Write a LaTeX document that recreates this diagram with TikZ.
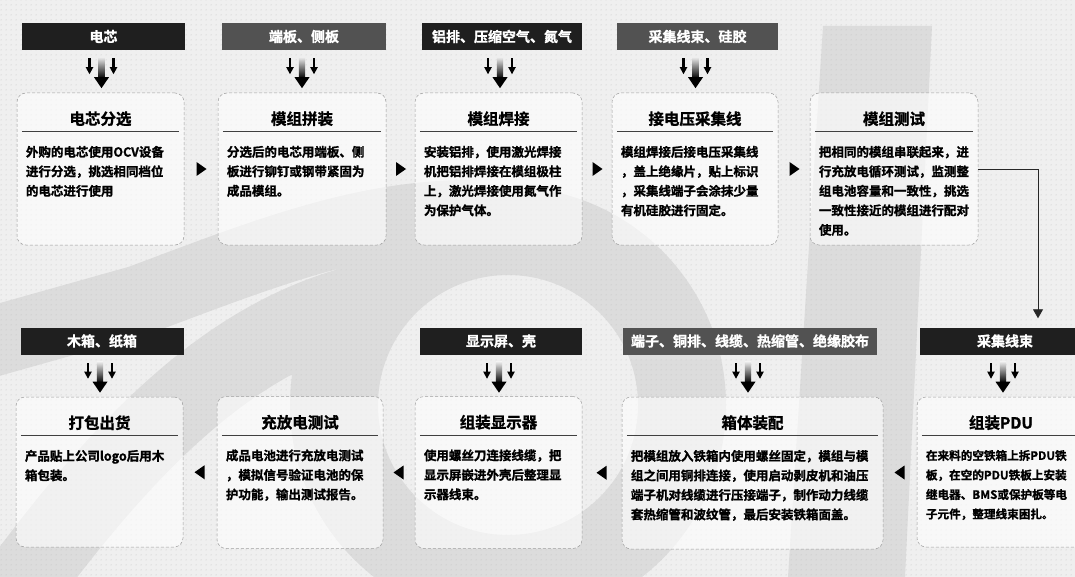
\documentclass[tikz,border=0pt]{standalone}
\usepackage{fontspec}
\setmainfont{Noto Sans CJK SC}[BoldFont={* Bold}, BoldFeatures={FakeBold=1.2}]
\usetikzlibrary{calc,arrows.meta,patterns.meta}
\definecolor{bgc}{HTML}{EFEFEF}
\definecolor{wm}{HTML}{DCDCDC}
\tikzdeclarepattern{name=bgdots, type=uncolored,
  bounding box={(0pt,0pt) and (5pt,5pt)}, tile size={(5pt,5pt)},
  code={\fill (2.5pt,2.5pt) circle (0.55pt);}}
% [body options], name, cx, cy, w, h, title, body
\newcommand\procbox[8][]{%
  \node[pbox, minimum width=#5pt, minimum height=#6pt] (#2) at (#3,#4) {};
  \node[ptitle] (#2-t) at ($(#2.north)+(0,26)$) {#7};
  \draw[sepline] ($(#2.north west)+(5,39)$) coordinate (#2-s1) -- ($(#2.north east)+(-5,39)$) coordinate (#2-s2);
  \node[pbody,#1] (#2-b) at ($(#2.north west)+(9,53)$) {#8};
}
% name, cx, cy, w, style, text
\newcommand\hdr[6]{%
  \node[hbox, #5, minimum width=#4pt] (#1) at (#2,#3) {#6};
}
% triple input arrow under a header
\newcommand\feed[1]{%
  \coordinate (#1-a) at ($(#1.south)+(-2,7)$);
  \shade[top color=gray!15, bottom color=black] ($(#1-a)+(-3.2,0)$) rectangle ($(#1-a)+(3.2,21)$);
  \fill ($(#1-a)+(-7.5,20)$) -- ($(#1-a)+(7.5,20)$) -- ($(#1-a)+(0,31)$) -- cycle;
  \foreach \s in {-12,12}{%
    \fill ($(#1-a)+(\s-1.3,1)$) rectangle ($(#1-a)+(\s+1.3,11)$);
    \fill ($(#1-a)+(\s-3.8,10)$) -- ($(#1-a)+(\s+3.8,10)$) -- ($(#1-a)+(\s,17)$) -- cycle;
  }%
}
\newcommand\rtri[2]{%
  \coordinate (#1) at (#2);
  \fill[tri] ($(#1)+(-4.5,-7)$) -- ($(#1)+(5.5,0)$) -- ($(#1)+(-4.5,7)$) -- cycle;
}
\newcommand\ltri[2]{%
  \coordinate (#1) at (#2);
  \fill[tri] ($(#1)+(4.5,-7)$) -- ($(#1)+(-5.5,0)$) -- ($(#1)+(4.5,7)$) -- cycle;
}
\begin{document}
\begin{tikzpicture}[x=1pt,y=-1pt,
  pbox/.style={draw=gray!75, densely dashed, line width=0.5pt, rounded corners=9pt, fill=white, fill opacity=0.6, inner sep=0pt},
  ptitle/.style={font=\bfseries\fontsize{15.5}{18}\selectfont, inner sep=0pt},
  sepline/.style={draw=black!75, line width=0.9pt},
  pbody/.style={font=\bfseries\fontsize{12.5}{19.5}\selectfont, align=left, inner sep=0pt, anchor=north west},
  pbodysm/.style={font=\bfseries\fontsize{11.6}{19.5}\selectfont},
  hbox/.style={text=white, font=\bfseries\fontsize{14}{16}\selectfont, minimum height=27pt, inner sep=0pt},
  hdark/.style={fill=black!88},
  hgray/.style={fill=black!68},
  tri/.style={fill=black},
  conn/.style={draw=black!85, line width=0.8pt, -{Triangle[width=10pt,length=9pt]}},
]
\useasboundingbox (0,0) rectangle (1075,577);
% background and watermark
\fill[bgc] (0,0) rectangle (1075,577);
\fill[wm, even odd rule] (508,405) circle (218pt) (508,405) circle (130pt);
\fill[wm] (823,26) -- (932,26) -- (905,577) -- (788,577) -- cycle;
\draw[wm, line width=70pt] (-20,345) -- (140,300) .. controls (260,255) and (360,215) .. (470,215);
\draw[wm, line width=80pt] (10,600) .. controls (120,450) and (230,330) .. (380,300);
\fill[pattern=bgdots, pattern color=gray!55] (0,0) rectangle (1075,577);

% top row headers
\hdr{h1}{103.5}{36.5}{163}{hdark}{电芯}
\hdr{h2}{304}{36.5}{164}{hgray}{端板、侧板}
\hdr{h3}{502}{36.5}{160}{hdark}{铝排、压缩空气、氮气}
\hdr{h4}{697.5}{36.5}{161}{hgray}{采集线束、硅胶}
% bottom row headers
\hdr{h6}{102}{341}{163}{hdark}{木箱、纸箱}
\hdr{h8}{501}{341}{162}{hdark}{显示屏、壳}
\hdr{h9}{750}{341}{254}{hgray}{端子、铜排、线缆、热缩管、绝缘胶布}
\hdr{h10}{1005}{341}{170}{hdark}{采集线束}

\feed{h1}\feed{h2}\feed{h3}\feed{h4}
\feed{h6}\feed{h8}\feed{h9}\feed{h10}

% top row boxes
\procbox{b1}{100.5}{169}{167}{152}{电芯分选}{外购的电芯使用OCV设备\\进行分选，挑选相同档位\\的电芯进行使用}
\procbox{b2}{302}{169}{168}{152}{模组拼装}{分选后的电芯用端板、侧\\板进行铆钉或钢带紧固为\\成品模组。}
\procbox{b3}{498.5}{169}{167}{152}{模组焊接}{安装铝排，使用激光焊接\\机把铝排焊接在模组极柱\\上，激光焊接使用氮气作\\为保护气体。}
\procbox{b4}{695}{169}{166}{152}{接电压采集线}{模组焊接后接电压采集线\\，盖上绝缘片，贴上标识\\，采集线端子会涂抹少量\\有机硅胶进行固定。}
\procbox{b5}{894}{169}{168}{152}{模组测试}{把相同的模组串联起来，进\\行充放电循环测试，监测整\\组电池容量和一致性，挑选\\一致性接近的模组进行配对\\使用。}
% bottom row boxes
\procbox{c1}{99.5}{472}{167}{150}{打包出货}{产品贴上公司logo后用木\\箱包装。}
\procbox{c2}{300}{472.5}{166}{152}{充放电测试}{成品电池进行充放电测试\\，模拟信号验证电池的保\\护功能，输出测试报告。}
\procbox{c3}{498.5}{472.5}{167}{152}{组装显示器}{使用螺丝刀连接线缆，把\\显示屏嵌进外壳后整理显\\示器线束。}
\procbox{c4}{752.5}{473}{261}{152}{箱体装配}{把模组放入铁箱内使用螺丝固定，模组与模\\组之间用铜排连接，使用启动剥皮机和油压\\端子机对线缆进行压接端子，制作动力线缆\\套热缩管和波纹管，最后安装铁箱面盖。}
\procbox[pbodysm]{c5}{1001}{472}{168}{150}{组装PDU}{在来料的空铁箱上拆PDU铁\\板，在空的PDU铁板上安装\\继电器、BMS或保护板等电\\子元件，整理线束困扎。}

% flow markers
\rtri{t1}{$(b1.east)!0.5!(b2.west)$}
\rtri{t2}{$(b2.east)!0.5!(b3.west)$}
\rtri{t3}{$(b3.east)!0.5!(b4.west)$}
\rtri{t4}{$(b4.east)!0.5!(b5.west)$}
\ltri{u4}{$(c4.east)!0.5!(c5.west)$}
\ltri{u3}{$(c3.east)!0.5!(c4.west)$}
\ltri{u2}{$(c2.east)!0.5!(c3.west)$}
\ltri{u1}{$(c1.east)!0.5!(c2.west)$}

% connector from module test to PDU supply
\draw[conn] (b5.east) -| ($(h10.north)+(33,-9)$);
\end{tikzpicture}
\end{document}
